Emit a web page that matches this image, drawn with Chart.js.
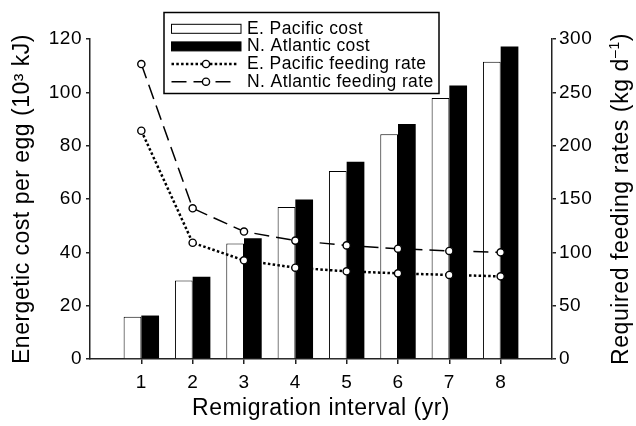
<!DOCTYPE html>
<html>
<head>
<meta charset="utf-8">
<script src="https://cdn.jsdelivr.net/npm/chart.js@4.4.0/dist/chart.umd.min.js"></script>
<style>
  html, body { margin: 0; padding: 0; background: #fff; }
  canvas { display: block; }
</style>
</head>
<body>
<canvas id="myChart" width="636" height="426"></canvas>
<script>
// values
const intervals = [1, 2, 3, 4, 5, 6, 7, 8];
const pacificCost = [15.8, 29.4, 43.3, 57.0, 70.5, 84.3, 97.9, 111.5];
const atlanticCost = [16.3, 30.8, 45.3, 59.8, 74.0, 88.1, 102.6, 117.2];
const pacificRate = [214, 109, 92.5, 85.6, 82.2, 80.3, 78.8, 77.5];
const atlanticRate = [276.5, 141.3, 119.5, 111, 106.5, 103.4, 101.3, 100];
const costTicks = [0, 20, 40, 60, 80, 100, 120];
const rateTicks = [0, 50, 100, 150, 200, 250, 300];

const FONT = "'Liberation Sans', Arial, Helvetica, sans-serif";
const AXIS = '#222';

function pts(ys) {
  return intervals.map((x, i) => ({ x: x, y: ys[i] }));
}

// legend drawn in a box, like the original figure
const boxLegend = {
  id: 'boxLegend',
  afterDraw(chart) {
    const ctx = chart.ctx;
    const ds = chart.data.datasets;
    ctx.save();
    ctx.letterSpacing = '0.4px';
    ctx.fillStyle = '#fff';
    ctx.fillRect(164, 12.5, 275, 81);
    ctx.strokeStyle = '#000';
    ctx.lineWidth = 1.5;
    ctx.strokeRect(164, 12.5, 275, 81);
    const rows = [28.8, 46.4, 64, 81.7];
    const x0 = 171.5, x1 = 241, xc = 206;
    ds.forEach((d, i) => {
      const y = rows[i];
      if (d.type === 'line') {
        ctx.beginPath();
        ctx.setLineDash(d.borderDash);
        ctx.lineWidth = d.borderWidth;
        ctx.strokeStyle = d.borderColor;
        ctx.moveTo(x0, y);
        ctx.lineTo(x1 - 4, y);
        ctx.stroke();
        ctx.setLineDash([]);
        ctx.beginPath();
        ctx.arc(xc, y, d.pointRadius, 0, Math.PI * 2);
        ctx.fillStyle = '#fff';
        ctx.fill();
        ctx.lineWidth = d.pointBorderWidth;
        ctx.stroke();
      } else {
        ctx.fillStyle = d.backgroundColor;
        ctx.fillRect(x0, y - 4.5, x1 - x0, 9);
        ctx.lineWidth = 1;
        ctx.strokeStyle = '#000';
        ctx.strokeRect(x0, y - 4.5, x1 - x0, 9);
      }
      ctx.fillStyle = '#000';
      ctx.font = '17.5px ' + FONT;
      ctx.textBaseline = 'middle';
      ctx.textAlign = 'left';
      ctx.fillText(d.label, 247, y);
    });
    ctx.restore();
  }
};

// right axis title reads bottom to top, with a superscript
const rightTitle = {
  id: 'rightTitle',
  afterDraw(chart) {
    const { ctx, chartArea } = chart;
    const big = '23px ' + FONT, small = '14px ' + FONT;
    const parts = [['Required feeding rates (kg d', big, 0], ['\u20131', small, -6], [')', big, 0]];
    ctx.save();
    ctx.letterSpacing = '0.6px';
    let total = 0;
    parts.forEach(p => { ctx.font = p[1]; p.push(ctx.measureText(p[0]).width); total += p[3]; });
    ctx.translate(621.5, (chartArea.top + chartArea.bottom) / 2);
    ctx.rotate(-Math.PI / 2);
    ctx.textBaseline = 'middle';
    ctx.textAlign = 'left';
    ctx.fillStyle = '#000';
    let x = -total / 2;
    parts.forEach(p => { ctx.font = p[1]; ctx.fillText(p[0], x, p[2]); x += p[3]; });
    ctx.restore();
  }
};

const spacing = {
  id: 'spacing',
  beforeDraw(chart) { chart.ctx.letterSpacing = '0.5px'; }
};

const ctx = document.getElementById('myChart').getContext('2d');
new Chart(ctx, {
  type: 'bar',
  data: {
    datasets: [
      {
        label: 'E. Pacific cost',
        data: pts(pacificCost),
        backgroundColor: '#fff',
        borderColor: '#000',
        borderWidth: 1,
        yAxisID: 'y',
        order: 1
      },
      {
        label: 'N. Atlantic cost',
        data: pts(atlanticCost),
        backgroundColor: '#000',
        borderColor: '#000',
        borderWidth: 0,
        yAxisID: 'y',
        order: 1
      },
      {
        type: 'line',
        label: 'E. Pacific feeding rate',
        data: pts(pacificRate),
        borderColor: '#000',
        borderWidth: 2.5,
        borderDash: [2.5, 2.3],
        pointRadius: 3.6,
        pointBorderWidth: 1.4,
        pointBackgroundColor: '#fff',
        pointBorderColor: '#000',
        tension: 0,
        yAxisID: 'y1',
        order: 0
      },
      {
        type: 'line',
        label: 'N. Atlantic feeding rate',
        data: pts(atlanticRate),
        borderColor: '#000',
        borderWidth: 1.5,
        borderDash: [15, 7],
        pointRadius: 3.6,
        pointBorderWidth: 1.4,
        pointBackgroundColor: '#fff',
        pointBorderColor: '#000',
        tension: 0,
        yAxisID: 'y1',
        order: 0
      }
    ]
  },
  options: {
    responsive: false,
    animation: false,
    layout: { padding: { top: 39, left: 0, right: 0, bottom: 0 } },
    categoryPercentage: 0.69,
    barPercentage: 1,
    plugins: {
      legend: { display: false },
      tooltip: { enabled: false }
    },
    scales: {
      x: {
        type: 'linear',
        min: 0,
        max: 9,
        offset: false,
        grid: {
          offset: false,
          drawOnChartArea: false,
          drawTicks: true,
          tickLength: 5,
          lineWidth: 1.5,
          color: c => (c.tick && (c.tick.value === 0 || c.tick.value === 9)) ? 'rgba(0,0,0,0)' : AXIS
        },
        border: { color: AXIS, width: 1.5 },
        ticks: {
          stepSize: 1,
          autoSkip: false,
          maxRotation: 0,
          padding: 7,
          color: '#000',
          font: { family: FONT, size: 19 },
          callback: v => intervals.includes(v) ? String(v) : ''
        },
        title: {
          display: true,
          text: 'Remigration interval (yr)',
          color: '#000',
          font: { family: FONT, size: 23 },
          padding: { top: 0, bottom: 3.5 }
        },
        afterFit: s => { s.height = 67; }
      },
      y: {
        position: 'left',
        min: 0,
        max: 120,
        grid: { drawOnChartArea: false, drawTicks: true, tickLength: 4, lineWidth: 1.5, color: AXIS },
        border: { color: AXIS, width: 1.5 },
        afterBuildTicks: s => { s.ticks = costTicks.map(v => ({ value: v })); },
        ticks: {
          padding: 4,
          color: '#000',
          font: { family: FONT, size: 19 }
        },
        title: {
          display: true,
          text: 'Energetic cost per egg (10\u00b3 kJ)',
          color: '#000',
          font: { family: FONT, size: 23 },
          padding: { top: 9, bottom: 0 }
        },
        afterFit: s => { s.width = 90; }
      },
      y1: {
        position: 'right',
        min: 0,
        max: 300,
        grid: { drawOnChartArea: false, drawTicks: true, tickLength: 4, lineWidth: 1.5, color: AXIS },
        border: { color: AXIS, width: 1.5 },
        afterBuildTicks: s => { s.ticks = rateTicks.map(v => ({ value: v })); },
        ticks: {
          padding: 3,
          color: '#000',
          font: { family: FONT, size: 19 }
        },
        afterFit: s => { s.width = 84; }
      }
    }
  },
  plugins: [spacing, boxLegend, rightTitle]
});
</script>
</body>
</html>
